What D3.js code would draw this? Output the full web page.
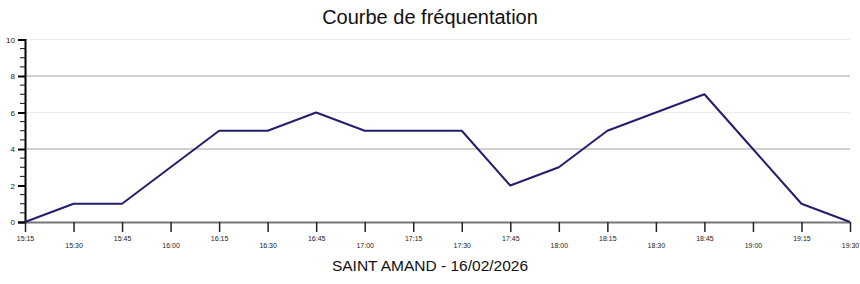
<!DOCTYPE html>
<html><head><meta charset="utf-8">
<script src="https://cdn.jsdelivr.net/npm/d3@7"></script>
<style>body{margin:0;background:#fff}svg{display:block;font-family:"Liberation Sans",Arial,sans-serif}</style>
</head><body><svg id="c" width="860" height="284"></svg>
<script>
const times = ["15:15","15:30","15:45","16:00","16:15","16:30","16:45","17:00","17:15","17:30","17:45","18:00","18:15","18:30","18:45","19:00","19:15","19:30"];
const values = [0,1,1,3,5,5,6,5,5,5,2,3,5,6,7,4,1,0];
const yTicks = [0,2,4,6,8,10];
const darkGrid = [4,8];
const lightGrid = [6,10];
const title = "Courbe de fréquentation";
const subtitle = "SAINT AMAND - 16/02/2026";

(function(){
const svg = d3.select("#c");
const mL = 25, mR = 850, mT = 39.5, mB = 222;
const x = d3.scalePoint().domain(times).range([mL, mR]);
const y = d3.scaleLinear().domain([0,10]).range([mB, mT]);

// grid
svg.append("g").selectAll("line").data(darkGrid.concat(lightGrid)).join("line")
  .attr("x1", mL).attr("x2", mR)
  .attr("y1", d=>y(d)).attr("y2", d=>y(d))
  .attr("stroke", d=>darkGrid.includes(d) ? "#a0a0a0" : "#ececec")
  .attr("stroke-width", 1);

// y axis minor ticks
const minor = d3.range(0, 10.01, 0.5).filter(d=>!yTicks.includes(d));
svg.append("g").selectAll("line").data(minor).join("line")
  .attr("x1", mL-5).attr("x2", mL)
  .attr("y1", d=>y(d)).attr("y2", d=>y(d))
  .attr("stroke", "#111").attr("stroke-width", 1);

const yAxis = svg.append("g").attr("transform", `translate(${mL},0)`)
  .call(d3.axisLeft(y).tickValues(yTicks).tickSize(7).tickPadding(3).tickFormat(d3.format("d")));
yAxis.select(".domain").attr("stroke", "#000").attr("stroke-width", 2);
yAxis.selectAll(".tick line").attr("stroke", "#000").attr("stroke-width", 2);
yAxis.selectAll(".tick text").attr("font-size", 8).attr("fill", "#222").attr("font-family", "Liberation Sans, Arial, sans-serif");

// x axis
const xAxis = svg.append("g").attr("transform", `translate(0,${mB})`)
  .call(d3.axisBottom(x).tickSize(10).tickSizeOuter(0).tickPadding(4));
xAxis.select(".domain").attr("stroke", "#777").attr("stroke-width", 2).attr("d", `M${mL},0.5H${mR}`);
xAxis.selectAll(".tick line").attr("stroke", "#222").attr("stroke-width", 1.5);
xAxis.selectAll(".tick text")
  .attr("font-size", 7).attr("fill", "#222").attr("font-family", "Liberation Sans, Arial, sans-serif")
  .attr("dy", (d,i)=> i%2 ? "1.75em" : "0.71em");

// line
svg.append("path").datum(values)
  .attr("fill", "none").attr("stroke", "#231e6e").attr("stroke-width", 2)
  .attr("stroke-linejoin", "round")
  .attr("d", d3.line().x((d,i)=>x(times[i])).y(d=>y(d)));

svg.append("text").attr("x", 430).attr("y", 24).attr("text-anchor","middle")
  .attr("font-size", 20).attr("fill","#111").text(title);
svg.append("text").attr("x", 430).attr("y", 271).attr("text-anchor","middle")
  .attr("font-size", 15.5).attr("fill","#111").text(subtitle);
})();
</script></body></html>
